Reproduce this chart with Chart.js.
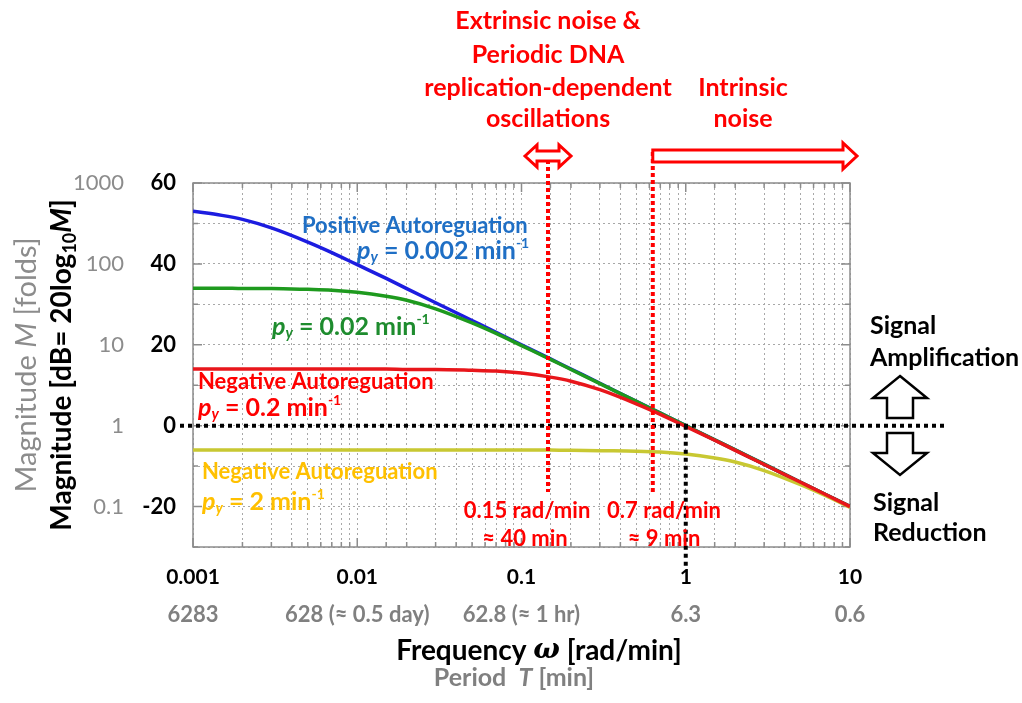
<!DOCTYPE html>
<html>
<head>
<meta charset="utf-8">
<script src="https://cdn.jsdelivr.net/npm/chart.js@4/dist/chart.umd.min.js"></script>
<style>
  html, body { margin: 0; padding: 0; background: #fff; }
  canvas { display: block; }
</style>
</head>
<body>
<canvas id="bodeChart" width="1022" height="703"></canvas>
<script>
// frequency (rad/min) and magnitude (dB)
const freq = [0.001, 0.0015, 0.002, 0.003, 0.005, 0.007, 0.01, 0.015, 0.02, 0.03, 0.05, 0.07,
              0.1, 0.15, 0.2, 0.3, 0.5, 0.7, 1, 1.5, 2, 3, 5, 7, 10];
const posAuto002 = [53.0, 52.0, 51.0, 48.9, 45.4, 42.8, 39.8, 36.4, 33.9, 30.4, 26.0, 23.1,
                    20.0, 16.5, 14.0, 10.5, 6.0, 3.1, 0.0, -3.5, -6.0, -9.5, -14.0, -16.9, -20.0];
const auto002 = [34.0, 34.0, 33.9, 33.9, 33.7, 33.5, 33.0, 32.0, 31.0, 28.9, 25.4, 22.8,
                 19.8, 16.4, 13.9, 10.4, 6.0, 3.1, 0.0, -3.5, -6.0, -9.5, -14.0, -16.9, -20.0];
const negAuto02 = [14.0, 14.0, 14.0, 14.0, 14.0, 14.0, 14.0, 14.0, 13.9, 13.9, 13.7, 13.5,
                   13.0, 12.0, 11.0, 8.9, 5.4, 2.8, -0.2, -3.6, -6.1, -9.6, -14.0, -16.9, -20.0];
const negAuto2 = [-6.0, -6.0, -6.0, -6.0, -6.0, -6.0, -6.0, -6.0, -6.0, -6.0, -6.0, -6.0,
                  -6.0, -6.0, -6.1, -6.2, -6.3, -6.5, -7.0, -8.0, -9.0, -11.1, -14.6, -17.2, -20.2];

// tick labels
const freqTicks = [0.001, 0.01, 0.1, 1, 10];
const freqLabels = ['0.001', '0.01', '0.1', '1', '10'];
const periodLabels = ['6283', '628 (\u2248 0.5 day)', '62.8 (\u2248 1 hr)', '6.3', '0.6'];
const dbTicks = [60, 40, 20, 0, -20];
const foldLabels = ['1000', '100', '10', '1', '0.1'];

// marked frequencies
const extrinsicFreq = 0.145;
const intrinsicFreq = 0.63;
const unityFreq = 1;

const FONT = 'Lato, "Open Sans", sans-serif';
const RED = '#ff0000';

const pts = arr => freq.map((f, i) => ({ x: f, y: arr[i] }));
const tickIndex = v => freqTicks.findIndex(t => Math.abs(Math.log10(v) - Math.log10(t)) < 1e-6);

// draw a row of text pieces: [text, font, dy]
function drawRuns(ctx, x, y, parts, color, align) {
    let w = 0;
    parts.forEach(p => { ctx.font = p[1]; w += ctx.measureText(p[0]).width; });
    let cx = align === 'center' ? x - w / 2 : x;
    ctx.fillStyle = color;
    ctx.textBaseline = 'middle';
    ctx.textAlign = 'left';
    parts.forEach(p => {
        ctx.font = p[1];
        ctx.fillText(p[0], cx, y + (p[2] || 0));
        cx += ctx.measureText(p[0]).width;
    });
}

function pyLabel(value, size) {
    return [
        ['p', `italic bold ${size}px ${FONT}`, 0],
        ['y', `italic bold ${Math.round(size * 0.6)}px ${FONT}`, 6],
        [' = ' + value + ' min', `bold ${size}px ${FONT}`, 0],
        ['-1', `bold ${Math.round(size * 0.58)}px ${FONT}`, -8]
    ];
}

function arrowShape(ctx, pts, stroke, width) {
    ctx.beginPath();
    pts.forEach((p, i) => i ? ctx.lineTo(p[0], p[1]) : ctx.moveTo(p[0], p[1]));
    ctx.closePath();
    ctx.fillStyle = '#fff';
    ctx.fill();
    ctx.lineWidth = width;
    ctx.strokeStyle = stroke;
    ctx.lineJoin = 'miter';
    ctx.stroke();
}

// plot box with inward tick marks
const frame = {
    id: 'frame',
    beforeDatasetsDraw(chart) {
        const { ctx, chartArea: a } = chart;
        const xs = chart.scales.x, ys = chart.scales.y;
        ctx.save();
        ctx.strokeStyle = '#8c8c8c';
        ctx.lineWidth = 1.5;
        ctx.strokeRect(a.left, a.top, a.right - a.left, a.bottom - a.top);
        ctx.beginPath();
        xs.ticks.forEach(t => {
            const px = xs.getPixelForValue(t.value);
            const len = tickIndex(t.value) >= 0 ? 9 : 5;
            ctx.moveTo(px, a.bottom); ctx.lineTo(px, a.bottom - len);
            ctx.moveTo(px, a.top); ctx.lineTo(px, a.top + len);
        });
        ys.ticks.forEach(t => {
            const py = ys.getPixelForValue(t.value);
            const len = dbTicks.includes(t.value) ? 9 : 5;
            ctx.moveTo(a.left, py); ctx.lineTo(a.left + len, py);
            ctx.moveTo(a.right, py); ctx.lineTo(a.right - len, py);
        });
        ctx.stroke();
        ctx.restore();
    }
};

const annotations = {
    id: 'annotations',
    afterDatasetsDraw(chart) {
        const { ctx } = chart;
        const xs = chart.scales.x, ys = chart.scales.y;
        const y0 = ys.getPixelForValue(0);
        ctx.save();

        // 0 dB line
        ctx.setLineDash([4, 4]);
        ctx.lineWidth = 4;
        ctx.strokeStyle = '#000';
        ctx.beginPath();
        ctx.moveTo(180, y0);
        ctx.lineTo(948, y0);
        ctx.stroke();
        const x1 = xs.getPixelForValue(unityFreq);
        ctx.beginPath();
        ctx.moveTo(x1, y0);
        ctx.lineTo(x1, 568);
        ctx.stroke();

        // red frequency markers
        ctx.strokeStyle = RED;
        ctx.setLineDash([4, 3]);
        const xe = xs.getPixelForValue(extrinsicFreq);
        const xi = xs.getPixelForValue(intrinsicFreq);
        ctx.beginPath();
        ctx.moveTo(xe, 160); ctx.lineTo(xe, 492);
        ctx.moveTo(xi, 152); ctx.lineTo(xi, 492);
        ctx.stroke();
        ctx.setLineDash([]);

        // double arrow
        const ay = 156;
        arrowShape(ctx, [[xe - 23, ay], [xe - 11, ay - 11], [xe - 11, ay - 5], [xe + 11, ay - 5],
            [xe + 11, ay - 11], [xe + 23, ay], [xe + 11, ay + 11], [xe + 11, ay + 5],
            [xe - 11, ay + 5], [xe - 11, ay + 11]], RED, 3);
        // intrinsic arrow
        arrowShape(ctx, [[xi, ay - 6], [843, ay - 6], [843, ay - 13], [857, ay], [843, ay + 13],
            [843, ay + 6], [xi, ay + 6]], RED, 3);

        // signal arrows
        arrowShape(ctx, [[900, 376], [927, 398], [913, 398], [913, 418], [887, 418], [887, 398], [873, 398]], '#000', 2.5);
        arrowShape(ctx, [[887, 433], [913, 433], [913, 453], [927, 453], [900, 475], [873, 453], [887, 453]], '#000', 2.5);

        // top notes
        const tf = `bold 25px ${FONT}`;
        ['Extrinsic noise &', 'Periodic DNA', 'replication-dependent', 'oscillations'].forEach((t, i) =>
            drawRuns(ctx, xe, [21, 55, 88, 119][i], [[t, tf]], RED, 'center'));
        drawRuns(ctx, 743, 88, [['Intrinsic', tf]], RED, 'center');
        drawRuns(ctx, 743, 119, [['noise', tf]], RED, 'center');

        // curve labels
        const lf = `bold 22px ${FONT}`;
        drawRuns(ctx, 302, 226, [['Positive Autoreguation', lf]], '#1f6fc5', 'left');
        drawRuns(ctx, 357, 251, pyLabel('0.002', 25), '#1f6fc5', 'left');
        drawRuns(ctx, 272, 327, pyLabel('0.02', 25), '#1e8c2e', 'left');
        drawRuns(ctx, 198, 382, [['Negative Autoreguation', lf]], RED, 'left');
        drawRuns(ctx, 198, 408, pyLabel('0.2', 25), RED, 'left');
        drawRuns(ctx, 202, 472, [['Negative Autoreguation', lf]], '#ffc000', 'left');
        drawRuns(ctx, 202, 502, pyLabel('2', 25), '#ffc000', 'left');

        // cut-off notes
        const cf = `bold 22px ${FONT}`;
        drawRuns(ctx, 527, 511, [['0.15 rad/min', cf]], RED, 'center');
        drawRuns(ctx, 525, 539, [['\u2248 40 min', cf]], RED, 'center');
        drawRuns(ctx, 664, 511, [['0.7 rad/min', cf]], RED, 'center');
        drawRuns(ctx, 664, 539, [['\u2248 9 min', cf]], RED, 'center');

        // signal notes
        const sf = `bold 25px ${FONT}`;
        drawRuns(ctx, 870, 326, [['Signal', sf]], '#000', 'left');
        drawRuns(ctx, 870, 358, [['Amplification', sf]], '#000', 'left');
        drawRuns(ctx, 873, 503, [['Signal', sf]], '#000', 'left');
        drawRuns(ctx, 873, 533, [['Reduction', sf]], '#000', 'left');

        // axis titles
        drawRuns(ctx, 539, 651, [['Frequency ', `bold 28px ${FONT}`],
            ['\u03c9', `italic bold 28px "DejaVu Serif", serif`, 0],
            [' [rad/min]', `bold 28px ${FONT}`]], '#000', 'center');
        drawRuns(ctx, 514, 678, [['Period  ', `bold 25px ${FONT}`],
            ['T', `italic bold 25px ${FONT}`], [' [min]', `bold 25px ${FONT}`]], '#808080', 'center');

        ctx.save();
        ctx.translate(62, 365);
        ctx.rotate(-Math.PI / 2);
        drawRuns(ctx, 0, 0, [['Magnitude [dB= 20log', `bold 28px ${FONT}`],
            ['10', `bold 18px ${FONT}`, 8], ['M', `italic bold 28px ${FONT}`], [']', `bold 28px ${FONT}`]], '#000', 'center');
        ctx.restore();
        ctx.save();
        ctx.translate(27, 365);
        ctx.rotate(-Math.PI / 2);
        drawRuns(ctx, 0, 0, [['Magnitude ', `29px ${FONT}`], ['M', `italic 29px ${FONT}`],
            [' [folds]', `29px ${FONT}`]], '#8c8c8c', 'center');
        ctx.restore();

        ctx.restore();
    }
};

const line = (arr, color) => ({
    data: pts(arr),
    borderColor: color,
    borderWidth: 3.5,
    pointRadius: 0,
    cubicInterpolationMode: 'monotone',
    fill: false
});

const gridOpts = { color: '#a8a8a8', lineWidth: 1, drawTicks: false };
const borderOpts = { display: false, dash: [2, 3] };

new Chart(document.getElementById('bodeChart').getContext('2d'), {
    type: 'line',
    data: {
        datasets: [
            line(negAuto02, '#e8161b'),
            line(negAuto2, '#c8c832'),
            line(auto002, '#1e9a1e'),
            line(posAuto002, '#1c1ce0')
        ]
    },
    options: {
        responsive: false,
        animation: false,
        devicePixelRatio: 1,
        layout: { padding: { left: 68, top: 183, right: 172, bottom: 76 } },
        plugins: { legend: { display: false }, tooltip: { enabled: false } },
        scales: {
            x: {
                type: 'logarithmic', position: 'bottom', min: 0.001, max: 10,
                grid: gridOpts, border: borderOpts,
                afterFit: s => { s.height = 40; },
                ticks: {
                    autoSkip: false, maxRotation: 0, padding: 18, color: '#000',
                    font: { family: FONT, size: 21, weight: 'bold' },
                    callback: v => { const i = tickIndex(v); return i >= 0 ? freqLabels[i] : ''; }
                }
            },
            x2: {
                type: 'logarithmic', position: 'bottom', min: 0.001, max: 10, weight: 1,
                grid: { display: false }, border: { display: false },
                afterFit: s => { s.height = 40; },
                ticks: {
                    autoSkip: false, maxRotation: 0, padding: 7, color: '#808080',
                    font: { family: FONT, size: 22, weight: 'bold' },
                    callback: v => { const i = tickIndex(v); return i >= 0 ? periodLabels[i] : ''; }
                }
            },
            y: {
                position: 'left', min: -30, max: 60,
                grid: gridOpts, border: borderOpts,
                afterFit: s => { s.width = 55; },
                ticks: {
                    stepSize: 10, padding: 17, color: '#000',
                    font: { family: FONT, size: 22, weight: 'bold' },
                    callback: v => dbTicks.includes(v) ? String(v) : ''
                }
            },
            y2: {
                position: 'left', min: -30, max: 60, weight: 1,
                grid: { display: false }, border: { display: false },
                afterFit: s => { s.width = 70; },
                ticks: {
                    stepSize: 10, padding: 6, color: '#8c8c8c',
                    font: { family: FONT, size: 22 },
                    callback: v => { const i = dbTicks.indexOf(v); return i >= 0 ? foldLabels[i] : ''; }
                }
            }
        }
    },
    plugins: [frame, annotations]
});
</script>
</body>
</html>
